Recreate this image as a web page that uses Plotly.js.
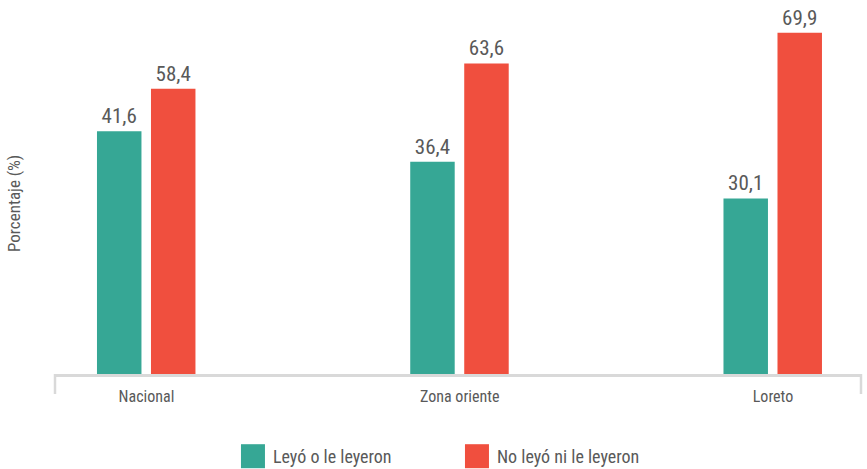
<!DOCTYPE html>
<html>
<head>
<meta charset="utf-8">
<script src="https://cdn.plot.ly/plotly-3.0.1.min.js"></script>
<style>html,body{margin:0;padding:0;background:#fff;}#chart{width:867px;height:469px;}</style>
</head>
<body>
<div id="chart"></div>
<script>
const categories = ["Nacional", "Zona oriente", "Loreto"];
const seriesNames = ["Leyó o le leyeron", "No leyó ni le leyeron"];
const leyo = [41.6, 36.4, 30.1];
const noLeyo = [58.4, 63.6, 69.9];

const FONT = '"Liberation Sans Narrow", "Roboto Condensed", "DejaVu Sans Condensed", sans-serif';
const GRAY = '#595959';
const PLOT_H = 374;

const traces = [
  {
    type: 'bar', name: seriesNames[0], x: categories, y: leyo, yaxis: 'y2',
    marker: {color: '#36A795'}, width: 0.142, offset: -0.158,
    texttemplate: '%{y:.1f}', textposition: 'outside', cliponaxis: false,
    textfont: {family: FONT, size: 21, color: GRAY}, hoverinfo: 'skip'
  },
  {
    type: 'bar', name: seriesNames[1], x: categories, y: noLeyo, yaxis: 'y',
    marker: {color: '#F04F3E'}, width: 0.142, offset: 0.0144,
    texttemplate: '%{y:.1f}', textposition: 'outside', cliponaxis: false,
    textfont: {family: FONT, size: 21, color: GRAY}, hoverinfo: 'skip'
  }
];

const layout = {
  width: 867, height: 469,
  margin: {l: 55, r: 6, t: 0, b: 95, autoexpand: false},
  paper_bgcolor: '#fff', plot_bgcolor: '#fff',
  separators: ',.',
  font: {family: FONT, color: GRAY},
  showlegend: true,
  legend: {
    orientation: 'h', x: 0.2208, xanchor: 'left', y: -64 / PLOT_H, yanchor: 'top',
    font: {family: FONT, size: 18, color: GRAY},
    entrywidth: 179, entrywidthmode: 'pixels', traceorder: 'normal'
  },
  xaxis: {
    type: 'category', range: [-0.292, 2.281], automargin: false,
    showline: true, linecolor: '#D9D9D9', linewidth: 2.5,
    ticks: '', showgrid: false, zeroline: false, ticklabelstandoff: 6,
    tickfont: {family: FONT, size: 16, color: GRAY}
  },
  yaxis: {range: [0, PLOT_H / 4.883], visible: false, fixedrange: true},
  yaxis2: {range: [0, PLOT_H / 5.833], overlaying: 'y', visible: false, fixedrange: true},
  shapes: [
    {type: 'line', xref: 'paper', yref: 'paper', x0: 0, x1: 0, y0: 0, y1: -20 / PLOT_H, line: {color: '#D9D9D9', width: 2.5}},
    {type: 'line', xref: 'paper', yref: 'paper', x0: 1, x1: 1, y0: 0, y1: -20 / PLOT_H, line: {color: '#D9D9D9', width: 2.5}}
  ],
  annotations: [
    {text: 'Porcentaje (%)', xref: 'paper', yref: 'paper', x: (14 - 55) / 806, y: (374 - 204) / PLOT_H,
     xanchor: 'center', yanchor: 'middle', textangle: -90, showarrow: false,
     font: {family: FONT, size: 17, color: GRAY}}
  ]
};

Plotly.newPlot('chart', traces, layout, {displayModeBar: false, staticPlot: true}).then(function () {
  document.querySelectorAll('.legendpoints path').forEach(function (p) {
    p.setAttribute('d', 'M12,12H-12V-12H12Z');
  });
});
</script>
</body>
</html>
